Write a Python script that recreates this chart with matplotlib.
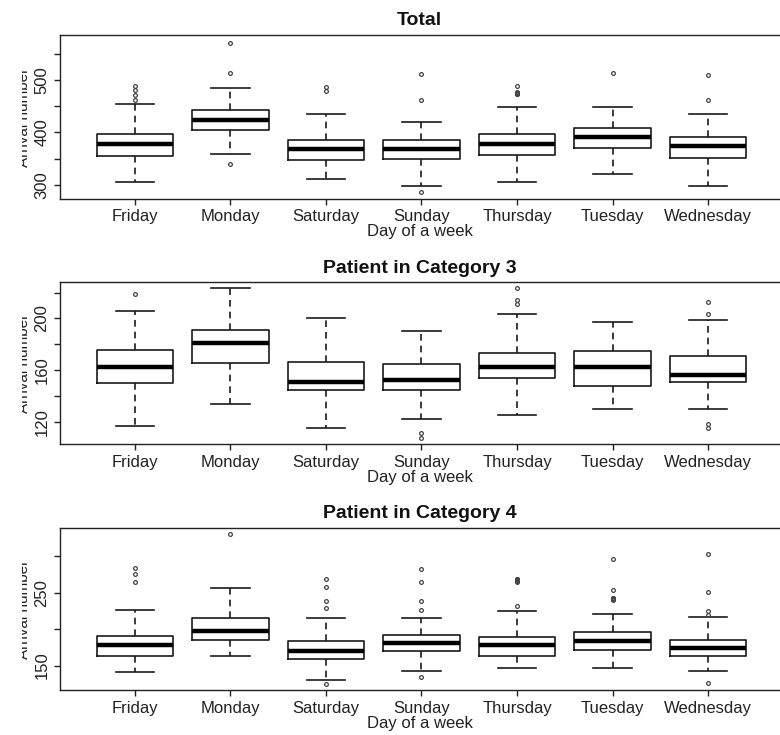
import matplotlib
matplotlib.use('Agg')
import matplotlib.pyplot as plt
from matplotlib.transforms import Bbox

plt.rcParams['font.family'] = ['Liberation Sans', 'DejaVu Sans']

# DAYS AND SUMMARY STATS (q1, median, q3, whisker low/high, outliers)

days = ['Friday', 'Monday', 'Saturday', 'Sunday', 'Thursday', 'Tuesday', 'Wednesday']

total_q1 = [355, 405, 347, 349.5, 357.5, 371, 352]
total_med = [377.5, 423, 368.5, 369, 378, 390.5, 374]
total_q3 = [396.5, 443, 385, 385.5, 396.5, 408, 391.5]
total_lo = [306, 358, 311, 298, 306, 320, 298]
total_hi = [454, 484, 435, 420.5, 448, 448, 434.5]
total_out = [[462, 472, 481, 488], [339, 514, 571], [480, 486], [287, 462, 511],
             [473, 474, 475, 476, 477, 489], [514], [462, 509]]

cat3_q1 = [150, 165.5, 144.5, 144.5, 153.5, 148, 151]
cat3_med = [162, 181, 151, 152, 162.5, 162, 156.5]
cat3_q3 = [175.5, 191, 166.5, 164.5, 173, 174.5, 171]
cat3_lo = [117, 133.5, 115.5, 122, 125.5, 130, 130]
cat3_hi = [205.5, 223.5, 200, 190, 203.5, 197, 198.5]
cat3_out = [[219], [], [], [107, 111], [211, 214.5, 223.5], [],
            [115, 118.5, 203.5, 212.5]]

cat4_q1 = [163.5, 185.5, 159.5, 169.5, 163.5, 171.5, 163.5]
cat4_med = [177.5, 197.5, 170, 181.5, 178, 184, 174]
cat4_q3 = [191, 215, 183.5, 191.5, 189.5, 195.5, 185]
cat4_lo = [140.5, 163.5, 130.5, 142.5, 146.5, 146.5, 142.5]
cat4_hi = [226.5, 256, 215, 215, 225, 221, 216.5]
cat4_out = [[264, 275.5, 284], [331], [124.5, 228.5, 238.5, 258, 268.5],
            [134, 226.5, 238.5, 264, 282], [231, 265, 266, 267, 268, 269],
            [240, 241, 242, 243, 254, 295.5], [126.5, 219.5, 225, 250.5, 303.5]]

titles = ['Total', 'Patient in Category 3', 'Patient in Category 4']
ylims = [(273, 586), (102.5, 228), (116, 339)]
yticks = [[300, 350, 400, 450, 500, 550],
          [120, 140, 160, 180, 200, 220],
          [150, 200, 250, 300]]
yticklabels = [['300', '', '400', '', '500', ''],
               ['120', '', '160', '', '200', ''],
               ['150', '', '250', '']]

panels = [
    (total_q1, total_med, total_q3, total_lo, total_hi, total_out),
    (cat3_q1, cat3_med, cat3_q3, cat3_lo, cat3_hi, cat3_out),
    (cat4_q1, cat4_med, cat4_q3, cat4_lo, cat4_hi, cat4_out),
]

W, H = 780, 735
fig = plt.figure(figsize=(W / 100, H / 100), dpi=100)

# axes boxes in pixels: (top, bottom); right edge runs off the canvas
ax_px = [(35, 199), (282.3, 444.3), (527.7, 690.3)]
left_px, right_px = 60, 800
pos = list(range(1, 8))
xlim = (0.215, 7.963)

ink = '#1a1a1a'

for k, (q1, med, q3, lo, hi, out) in enumerate(panels):
    top, bot = ax_px[k]
    ax = fig.add_axes([left_px / W, 1 - bot / H, (right_px - left_px) / W, (bot - top) / H])

    stats = []
    for i in range(len(days)):
        stats.append(dict(q1=q1[i], med=med[i], q3=q3[i],
                          whislo=lo[i], whishi=hi[i], fliers=out[i]))

    ax.bxp(stats, positions=pos, widths=0.8, capwidths=0.4, showfliers=True,
           boxprops=dict(color=ink, linewidth=1.2),
           medianprops=dict(color='black', linewidth=3.2, solid_capstyle='butt'),
           whiskerprops=dict(color=ink, linewidth=1.2, linestyle=(0, (4, 3))),
           capprops=dict(color=ink, linewidth=1.2),
           flierprops=dict(marker='o', markersize=2.7, markerfacecolor='none',
                           markeredgecolor='#444444', markeredgewidth=0.9))

    ax.set_xlim(*xlim)
    ax.set_ylim(*ylims[k])
    ax.set_xticks(pos)
    ax.set_xticklabels(days)
    ax.set_yticks(yticks[k])
    ax.set_yticklabels(yticklabels[k], rotation=90, va='center')

    for s in ['left', 'top', 'bottom']:
        ax.spines[s].set_color('#222222')
        ax.spines[s].set_linewidth(1.0)
    ax.spines['right'].set_visible(False)

    ax.tick_params(axis='both', length=4.5, width=1.0, color='#222222',
                   labelsize=12, labelcolor='#222222')
    ax.tick_params(axis='x', pad=3)
    ax.tick_params(axis='y', pad=3)

    ax.set_title(titles[k], x=0.486, pad=7, fontsize=14, fontweight='bold',
                 color='#111111')
    ax.set_xlabel('Day of a week', fontsize=12, color='#222222', labelpad=0,
                  x=0.486)

    # y label sits half off the left edge of the canvas
    yl = fig.text(31 / W, 1 - ((top + bot) / 2) / H, 'Arrival number', rotation=90,
                  ha='right', va='center', fontsize=11, color='#222222')
    yl.set_clip_box(Bbox([[22, 0], [W, H]]))
    yl.set_clip_on(True)

fig.savefig('out.png', dpi=100)
